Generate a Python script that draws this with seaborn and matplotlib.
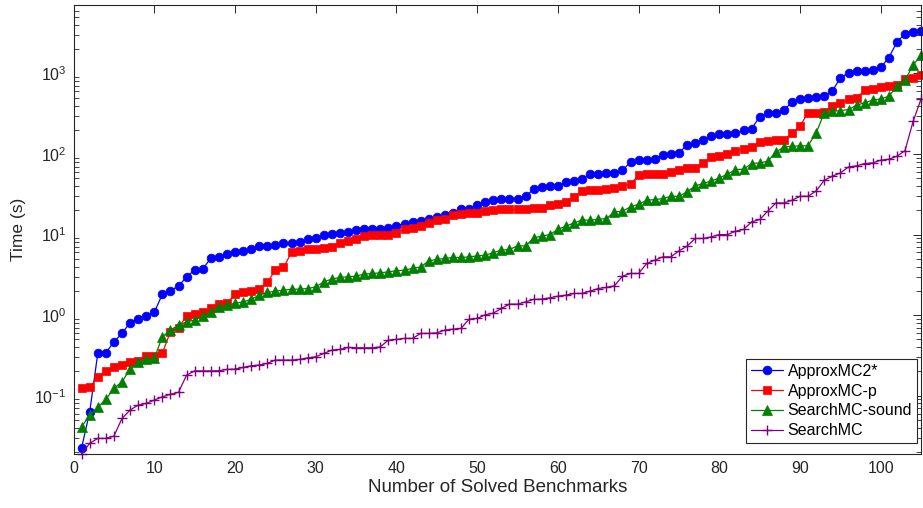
import numpy as np
import pandas as pd
import matplotlib
matplotlib.use("Agg")
import matplotlib.pyplot as plt
import seaborn as sns
from matplotlib.ticker import LogLocator, FixedLocator

# Runtime (s) per benchmark, sorted, for each counter
approxmc2 = [0.0226, 0.063, 0.335, 0.34, 0.466, 0.593, 0.81, 0.90, 0.98, 1.08,
             1.82, 2.02, 2.29, 2.99, 3.62, 3.72, 5.1, 5.2, 5.8, 6.0,
             6.2, 6.7, 7.2, 7.2, 7.5, 7.8, 7.9, 8.0, 8.7, 9.1,
             9.8, 10.3, 10.5, 10.8, 11.3, 11.6, 11.7, 11.8, 12.1, 12.8,
             13.7, 14.4, 14.8, 15.8, 16.3, 17.4, 18.8, 20.5, 20.7, 23.6,
             25.2, 26.7, 27.5, 28.0, 28.0, 30.2, 36.3, 39.1, 39.9, 40.2,
             45.1, 46.4, 48.3, 57.3, 57.3, 58.3, 58.3, 62.9, 79.8, 83.8,
             85.5, 86.2, 96.6, 99.5, 104, 129, 137, 151, 166, 176,
             178, 180, 197, 207, 290, 321, 324, 349, 443, 479,
             502, 511, 521, 607, 885, 1014, 1065, 1074, 1112, 1194,
             1575, 2455, 3127, 3273, 3357]

approxmc_p = [0.123, 0.127, 0.169, 0.204, 0.224, 0.24, 0.263, 0.271, 0.313, 0.313,
              0.34, 0.62, 0.70, 0.98, 1.02, 1.10, 1.21, 1.36, 1.40, 1.82,
              1.91, 1.99, 2.14, 2.55, 3.62, 3.91, 6.0, 6.22, 6.53, 6.53,
              6.72, 6.92, 7.89, 8.3, 8.77, 9.55, 9.84, 9.84, 9.84, 10.6,
              11.7, 12.1, 12.8, 14.0, 15.1, 15.8, 17.4, 17.9, 18.6, 18.6,
              19.5, 20.1, 20.5, 20.5, 20.5, 20.5, 21.1, 21.1, 23.2, 23.8,
              25.5, 29.4, 34.5, 35.6, 35.6, 36.6, 38.4, 39.9, 42.2, 54.6,
              56.1, 57.3, 57.3, 60.0, 62.9, 68.0, 68.0, 78.5, 90.6, 94.0,
              101, 109, 117, 122, 141, 145, 148, 150, 180, 223,
              327, 327, 330, 400, 427, 476, 497, 619, 633, 688,
              694, 714, 848, 880, 950]

searchmc_sound = [0.0411, 0.0574, 0.0716, 0.090, 0.123, 0.149, 0.212, 0.259, 0.282, 0.29,
                  0.541, 0.652, 0.751, 0.826, 0.867, 0.972, 1.10, 1.27, 1.33, 1.40,
                  1.46, 1.57, 1.77, 1.91, 1.99, 2.04, 2.10, 2.10, 2.14, 2.24,
                  2.59, 2.80, 2.94, 2.99, 3.05, 3.23, 3.29, 3.35, 3.45, 3.55,
                  3.62, 3.80, 3.97, 4.72, 4.91, 5.05, 5.2, 5.2, 5.29, 5.44,
                  5.55, 5.96, 6.41, 6.53, 7.24, 7.24, 9.1, 9.55, 10.0, 11.6,
                  12.7, 14.0, 15.1, 15.1, 15.5, 15.8, 19.1, 19.5, 22.1, 23.8,
                  26.7, 27.2, 28.0, 29.9, 29.9, 33.9, 40.2, 43.1, 46.4, 50.5,
                  56.1, 64.2, 64.8, 76.2, 77.6, 81.4, 106, 122, 125, 126,
                  127, 184, 323, 340, 345, 357, 403, 435, 465, 484,
                  521, 694, 824, 1274, 1682]

searchmc = [0.019, 0.0256, 0.0295, 0.0295, 0.0315, 0.0522, 0.0663, 0.0764, 0.0802, 0.0882,
            0.0969, 0.104, 0.110, 0.180, 0.203, 0.203, 0.203, 0.204, 0.212, 0.214,
            0.224, 0.235, 0.24, 0.252, 0.277, 0.277, 0.277, 0.282, 0.295, 0.304,
            0.335, 0.368, 0.375, 0.397, 0.393, 0.393, 0.393, 0.404, 0.49, 0.50,
            0.514, 0.514, 0.593, 0.593, 0.603, 0.652, 0.670, 0.684, 0.892, 0.91,
            1.01, 1.06, 1.21, 1.37, 1.37, 1.46, 1.57, 1.58, 1.64, 1.72,
            1.77, 1.86, 1.86, 1.99, 2.14, 2.21, 2.31, 3.05, 3.29, 3.29,
            4.38, 4.81, 5.29, 5.29, 6.28, 7.18, 8.95, 8.95, 9.36, 10.0,
            10.0, 11.0, 11.6, 14.4, 15.4, 19.5, 24.7, 24.7, 26.7, 29.9,
            29.9, 34.9, 47.3, 53.1, 58.3, 69.2, 71.2, 76.2, 77.6, 83.8,
            86.2, 94.0, 110, 254, 486]

series_names = ["ApproxMC2*", "ApproxMC-p", "SearchMC-sound", "SearchMC"]
series_values = [approxmc2, approxmc_p, searchmc_sound, searchmc]
series_colors = ["#0000ff", "#ff0000", "#008000", "#800080"]
series_markers = ["o", "s", "^", "+"]
series_msize = [6.3, 5.6, 6.6, 7.0]

x_ticks = [0, 10, 20, 30, 40, 50, 60, 70, 80, 90, 100]

ink = "#262626"

sns.set_theme(style="white")
plt.rcParams["font.family"] = ["Liberation Sans", "DejaVu Sans"]
plt.rcParams["mathtext.fontset"] = "custom"
plt.rcParams["mathtext.rm"] = "Liberation Sans"
plt.rcParams["mathtext.it"] = "Liberation Sans:italic"
plt.rcParams["mathtext.bf"] = "Liberation Sans:bold"
plt.rcParams["axes.unicode_minus"] = False

frames = []
for name, vals in zip(series_names, series_values):
    frames.append(pd.DataFrame({"n": np.arange(1, len(vals) + 1),
                                "time": vals, "method": name}))
df = pd.concat(frames, ignore_index=True)

fig = plt.figure(figsize=(9.23, 5.08), dpi=100)
ax = fig.add_axes([0.0797, 0.1063, 0.9183, 0.8844])

for name, color, marker, ms in zip(series_names, series_colors,
                                   series_markers, series_msize):
    sub = df[df["method"] == name]
    sns.lineplot(data=sub, x="n", y="time", ax=ax, color=color, marker=marker,
                 markersize=ms, markeredgecolor=color, markerfacecolor=color,
                 markeredgewidth=1.0 if marker == "+" else 0.5,
                 linewidth=0.9, label=name, clip_on=False)

ax.set_yscale("log")
ax.set_xlim(0, 105)
ax.set_ylim(0.01888, 7140)
ax.xaxis.set_major_locator(FixedLocator(x_ticks))
ax.yaxis.set_major_locator(LogLocator(base=10, numticks=12))
ax.yaxis.set_minor_locator(LogLocator(base=10, subs=np.arange(2, 10), numticks=12))

ax.set_xlabel("Number of Solved Benchmarks", fontsize=13.5, color=ink, labelpad=2)
ax.set_ylabel("Time (s)", fontsize=12.5, color=ink, labelpad=6)

ax.tick_params(axis="both", which="major", direction="in", length=6, width=0.7,
               top=True, right=True, colors=ink, labelsize=11.5, pad=5)
ax.tick_params(axis="y", which="minor", direction="in", length=3.5, width=0.6,
               left=True, right=True, colors=ink)
for side in ax.spines.values():
    side.set_visible(True)
    side.set_color(ink)
    side.set_linewidth(0.8)

leg = ax.legend(loc="lower right", bbox_to_anchor=(0.995, 0.0245),
                fontsize=11.5, frameon=True, fancybox=False,
                edgecolor=ink, framealpha=1, handlelength=2.0,
                borderpad=0.3, labelspacing=0.3, handletextpad=0.3,
                borderaxespad=0.0)
leg.get_frame().set_linewidth(0.8)
for t in leg.get_texts():
    t.set_color("black")

fig.savefig("out.png", dpi=100, facecolor="white")
